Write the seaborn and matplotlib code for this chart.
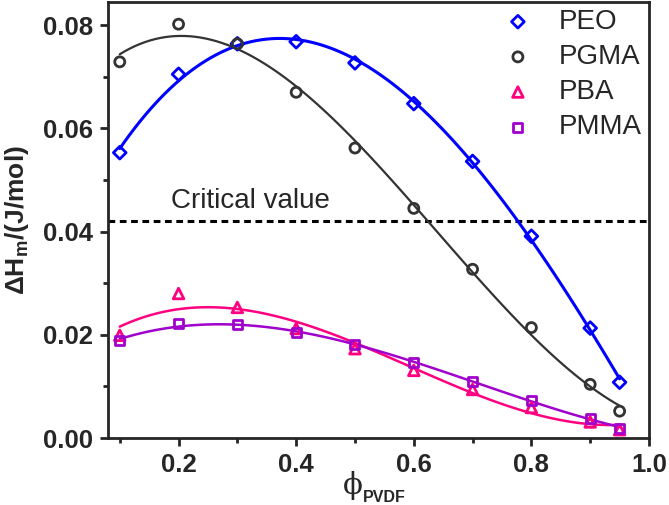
import numpy as np
import pandas as pd
import matplotlib
matplotlib.use("Agg")
import matplotlib.pyplot as plt
from matplotlib.ticker import MultipleLocator, FormatStrFormatter
import seaborn as sns

# data
phi = [0.1, 0.2, 0.3, 0.4, 0.5, 0.6, 0.7, 0.8, 0.9, 0.95]
peo = [0.0553, 0.0705, 0.0764, 0.0768, 0.0727, 0.0648, 0.0536, 0.0391, 0.0213, 0.0108]
pgma = [0.0729, 0.0802, 0.0764, 0.0670, 0.0562, 0.0445, 0.0327, 0.0214, 0.0104, 0.0052]
pba = [0.0199, 0.0280, 0.0253, 0.0212, 0.0173, 0.0131, 0.0094, 0.0059, 0.0031, 0.0016]
pmma = [0.0189, 0.0221, 0.0220, 0.0204, 0.0181, 0.0146, 0.0110, 0.0073, 0.0038, 0.0019]
names = ["PEO", "PGMA", "PBA", "PMMA"]
critical_value = 0.042

series = {"PEO": peo, "PGMA": pgma, "PBA": pba, "PMMA": pmma}

# styles
colors = {"PEO": "#0000FF", "PGMA": "#333333", "PBA": "#FF0080", "PMMA": "#A000CC"}
markers = {"PEO": "D", "PGMA": "o", "PBA": "^", "PMMA": "s"}
msize = {"PEO": 42, "PGMA": 52, "PBA": 58, "PMMA": 42}
line_w = {"PEO": 2.2, "PGMA": 1.6, "PBA": 1.8, "PMMA": 1.8}

sns.set_style("ticks")
plt.rcParams["font.family"] = ["Liberation Sans", "DejaVu Sans"]
plt.rcParams["mathtext.fontset"] = "custom"
plt.rcParams["mathtext.bf"] = "Liberation Sans:bold"
plt.rcParams["mathtext.rm"] = "Liberation Sans"

fig = plt.figure(figsize=(6.69, 5.05), dpi=100)
ax = fig.add_axes([108 / 669, 1 - 438 / 505, 541 / 669, 436 / 505])

for name in names:
    df = pd.DataFrame({"phi": phi, "dH": series[name]})
    # cubic fit line
    sns.regplot(data=df, x="phi", y="dH", order=3, ci=None, scatter=False,
                truncate=True, ax=ax,
                line_kws=dict(color=colors[name], lw=line_w[name], zorder=2))
    sns.scatterplot(data=df, x="phi", y="dH", marker=markers[name],
                    s=msize[name], facecolors="none", edgecolor=colors[name],
                    linewidth=2.0, label=name, ax=ax, zorder=3)

ax.axhline(critical_value, color="black", lw=2.2, dashes=(2.2, 1.5), zorder=1)
ax.text(0.322, 0.0446, "Critical value", ha="center", va="baseline", fontsize=20)

ax.set_xlim(0.08, 1.0)
ax.set_ylim(0, 0.0845)
ax.xaxis.set_major_locator(MultipleLocator(0.2))
ax.xaxis.set_minor_locator(MultipleLocator(0.1))
ax.yaxis.set_major_locator(MultipleLocator(0.02))
ax.yaxis.set_minor_locator(MultipleLocator(0.01))
ax.xaxis.set_major_formatter(FormatStrFormatter("%.1f"))
ax.yaxis.set_major_formatter(FormatStrFormatter("%.2f"))
ax.tick_params(which="major", direction="out", length=6, width=2, pad=5,
               labelsize=18.5)
ax.tick_params(which="minor", direction="out", length=3.5, width=2)
for lab in ax.get_xticklabels() + ax.get_yticklabels():
    lab.set_fontweight("bold")
for sp in ax.spines.values():
    sp.set_linewidth(2)
    sp.set_visible(True)

ax.set_xlabel("")
ax.set_ylabel(r"ΔH$_{\mathbf{m}}$/(J/mol)", fontsize=19, fontweight="bold")
ax.yaxis.set_label_coords(-0.143, 0.5)

fig.text(353 / 669, 1 - 486 / 505, "\u03d5", family=["DejaVu Serif"],
         fontsize=21, ha="center", va="center")
fig.text(363 / 669, 1 - 502 / 505, "PVDF", fontsize=11.5, fontweight="bold",
         ha="left", va="baseline")

leg = ax.legend(loc="upper left", bbox_to_anchor=(504 / 669, 1 - 9 / 505),
                bbox_transform=fig.transFigure, frameon=False, fontsize=20,
                handlelength=1.0, handletextpad=0.97, labelspacing=0.33,
                borderpad=0, borderaxespad=0)

fig.savefig("out.png", dpi=100)
